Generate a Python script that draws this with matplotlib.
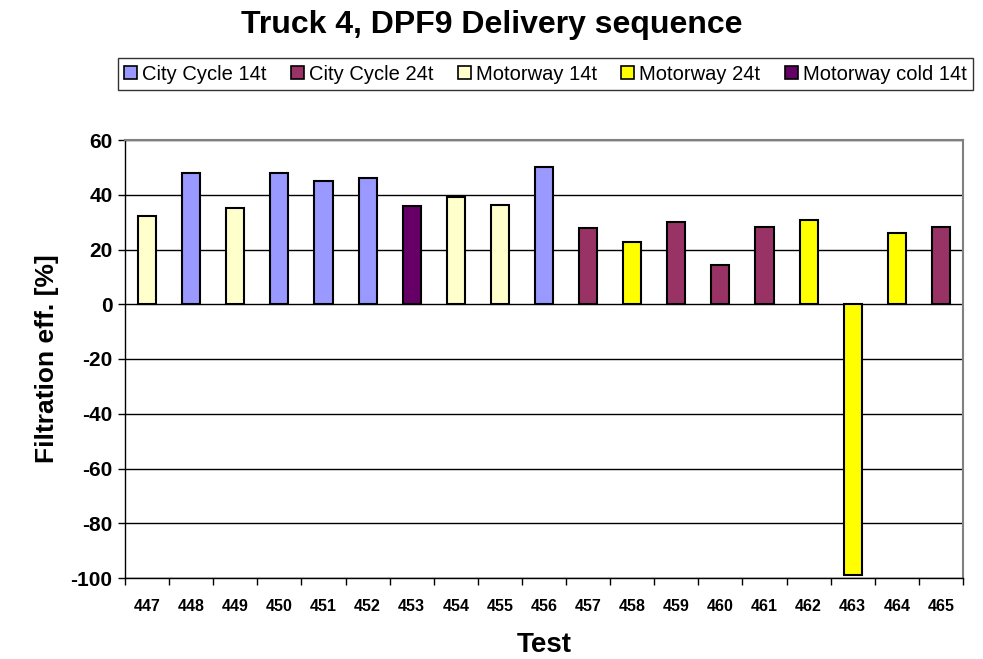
import matplotlib
matplotlib.use("Agg")
import matplotlib.pyplot as plt
from matplotlib.patches import Patch

plt.rcParams['font.family'] = ['Liberation Sans', 'DejaVu Sans']

tests = ['447', '448', '449', '450', '451', '452', '453', '454', '455', '456',
         '457', '458', '459', '460', '461', '462', '463', '464', '465']
values = [32.4, 47.8, 35.2, 48.0, 44.9, 46.2, 36.0, 39.1, 36.1, 50.1,
          28.0, 22.8, 29.9, 14.3, 28.4, 30.6, -98.8, 26.0, 28.2]
series_of_test = ['Motorway 14t', 'City Cycle 14t', 'Motorway 14t', 'City Cycle 14t',
                  'City Cycle 14t', 'City Cycle 14t', 'Motorway cold 14t', 'Motorway 14t',
                  'Motorway 14t', 'City Cycle 14t', 'City Cycle 24t', 'Motorway 24t',
                  'City Cycle 24t', 'City Cycle 24t', 'City Cycle 24t', 'Motorway 24t',
                  'Motorway 24t', 'Motorway 24t', 'City Cycle 24t']
series_names = ['City Cycle 14t', 'City Cycle 24t', 'Motorway 14t', 'Motorway 24t', 'Motorway cold 14t']
series_colors = ['#9999FF', '#993366', '#FFFFCC', '#FFFF00', '#660066']
yticks = [-100, -80, -60, -40, -20, 0, 20, 40, 60]

cmap = dict(zip(series_names, series_colors))

fig = plt.figure(figsize=(9.83, 6.59), dpi=100)
ax = fig.add_axes([125/983, 1-578/659, (963-125)/983, (578-140)/659])

x = list(range(len(tests)))
ax.bar(x, values, width=0.41, color=[cmap[s] for s in series_of_test],
       edgecolor='black', linewidth=1.5, zorder=3)

ax.set_xlim(-0.5, len(tests)-0.5)
ax.set_ylim(-100, 60)
ax.set_yticks(yticks)
ax.set_yticklabels([str(v) for v in yticks], fontsize=15, fontweight='bold')
ax.yaxis.grid(True, color='black', linewidth=1.0, zorder=0)
ax.set_axisbelow(True)

ax.set_xticks(x)
ax.set_xticklabels(tests, fontsize=11.5, fontweight='bold')
ax.tick_params(axis='x', length=0, pad=15)
ax.set_xticks([i+0.5 for i in range(-1, len(tests))], minor=True)
ax.tick_params(axis='x', which='minor', length=5, width=1, direction='out', color='black')
ax.tick_params(axis='y', length=5, width=1, direction='out', pad=4)

for side in ['top', 'right']:
    ax.spines[side].set_color('#808080')
    ax.spines[side].set_linewidth(1.5)
for side in ['left', 'bottom']:
    ax.spines[side].set_color('black')
    ax.spines[side].set_linewidth(1.0)

ax.set_ylabel('Filtration eff. [%]', fontsize=19, fontweight='bold', labelpad=8)
ax.set_xlabel('Test', fontsize=20, fontweight='bold', labelpad=13)

fig.suptitle('Truck 4, DPF9 Delivery sequence', fontsize=23, fontweight='bold', y=0.985)

handles = [Patch(facecolor=c, edgecolor='black', linewidth=1.2) for c in series_colors]
leg = fig.legend(handles, series_names, loc='center', bbox_to_anchor=(545.5/983, 1-74/659),
                 ncol=5, fontsize=14.5, frameon=True, fancybox=False, edgecolor='black',
                 handlelength=0.65, handleheight=0.65, handletextpad=0.25, columnspacing=1.2,
                 borderpad=0.3, borderaxespad=0)
leg.get_frame().set_linewidth(1.0)

fig.savefig('out.png', dpi=100)
